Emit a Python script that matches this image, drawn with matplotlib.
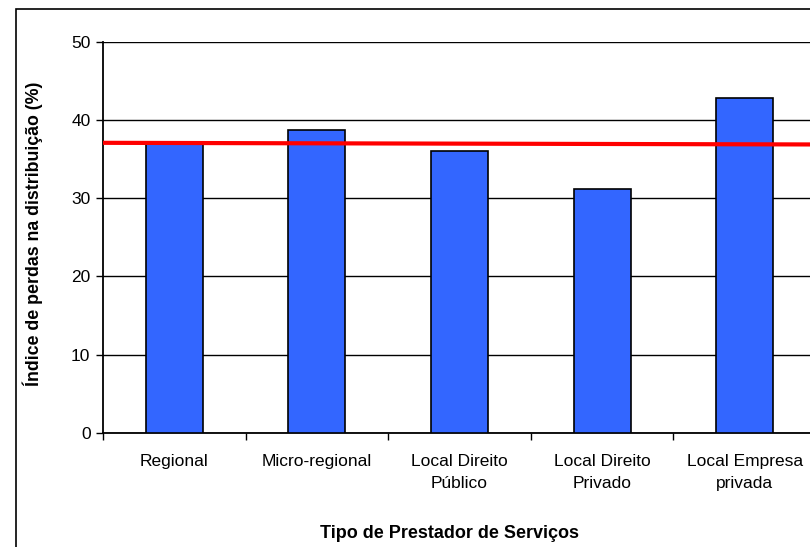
import matplotlib.pyplot as plt
import matplotlib.ticker as ticker
from matplotlib.patches import Rectangle
import numpy as np

# data
categories = ["Regional", "Micro-regional", "Local Direito\nPúblico",
              "Local Direito\nPrivado", "Local Empresa\nprivada"]
perdas = [36.9, 38.7, 36.0, 31.2, 42.8]
media_ends = [37.06, 36.85]   # red reference line, left end / right end

plt.rcParams['font.family'] = ['Liberation Sans', 'DejaVu Sans']

fig = plt.figure(figsize=(8.1, 5.47), dpi=100)
# outer chart frame (cut off at the right and bottom like the original)
fig.patches.append(Rectangle((16 / 810, -0.1), 1.1, 1 - 9 / 547 + 0.1,
                             transform=fig.transFigure, fill=False,
                             edgecolor="black", linewidth=1.2))

ax = fig.add_axes([103 / 810, 1 - 433 / 547, 713 / 810, 391.5 / 547])

x = np.arange(len(categories))
ax.bar(x, perdas, width=0.4, color="#3366FF", edgecolor="black",
       linewidth=1.2, zorder=3)
ax.plot([-0.5, len(categories) - 0.5], media_ends, color="#FF0000",
        linewidth=3, zorder=4, solid_capstyle="butt")

ax.set_xlim(-0.5, len(categories) - 0.5)
ax.set_ylim(0, 50)
ax.yaxis.set_major_locator(ticker.MultipleLocator(10))
ax.yaxis.grid(True, color="black", linewidth=1)
ax.set_axisbelow(True)

ax.set_xticks(x)
ax.set_xticklabels(categories, fontsize=12.5, linespacing=1.6)
ax.set_xticks(np.arange(-0.5, len(categories)), minor=True)
ax.tick_params(axis="x", which="major", length=0, pad=15)
ax.tick_params(axis="x", which="minor", length=5, width=1, direction="out")
ax.tick_params(axis="y", length=5, width=1, labelsize=12.5, pad=4)

for s in ["top", "right"]:
    ax.spines[s].set_visible(False)
ax.spines["left"].set_linewidth(1.3)
ax.spines["bottom"].set_linewidth(1.3)

fig.text(33 / 810, 1 - 234 / 547, "Índice de perdas na distribuição (%)",
         fontsize=12.8, fontweight="bold", rotation=90,
         ha="center", va="center")
fig.text(450 / 810, 1 - 534 / 547, "Tipo de Prestador de Serviços",
         fontsize=13, fontweight="bold", ha="center", va="center")

fig.savefig("out.png", dpi=100)
